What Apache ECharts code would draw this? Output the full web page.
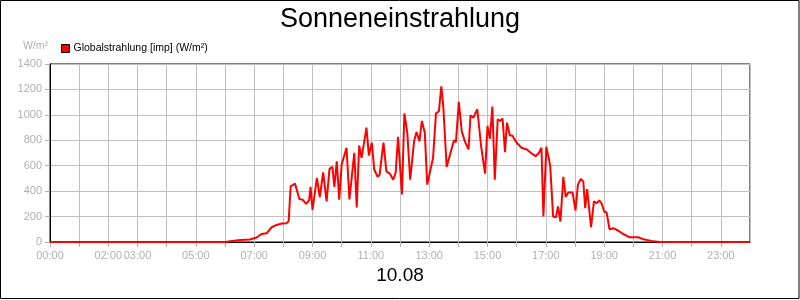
<!doctype html>
<html>
<head>
<meta charset="utf-8">
<script src="https://cdn.jsdelivr.net/npm/echarts@6/dist/echarts.min.js"></script>
<style>
* { margin: 0px; padding: 0px; }
body { background: #fff; }
#chart { width: 800px; height: 300px; }
</style>
</head>
<body>
<div id="chart"></div>
<script>
// Messzeitpunkte (Uhrzeit) und Globalstrahlung in W/m²
var times = ['00:00','06:00','06:31','06:51','07:05','07:15','07:26','07:36','07:46','07:57',
	'08:07','08:11','08:15','08:24','08:33','08:40','08:47','08:53','08:56','09:00',
	'09:09','09:15','09:22','09:29','09:35','09:41','09:45','09:50','09:55','10:00',
	'10:04','10:10','10:16','10:26','10:31','10:36','10:41','10:51','10:56','11:02',
	'11:07','11:14','11:18','11:26','11:32','11:39','11:46','11:51','11:56','12:04',
	'12:09','12:15','12:21','12:29','12:34','12:40','12:45','12:51','12:56','13:00',
	'13:08','13:14','13:20','13:25','13:29','13:36','13:43','13:51','13:55','14:01',
	'14:07','14:14','14:21','14:25','14:31','14:39','14:47','14:55','15:00','15:05',
	'15:10','15:15','15:21','15:26','15:31','15:36','15:40','15:46','15:51','16:00',
	'16:10','16:21','16:31','16:39','16:46','16:51','16:55','17:01','17:09','17:15',
	'17:21','17:25','17:30','17:36','17:41','17:46','17:55','18:01','18:06','18:12',
	'18:17','18:21','18:25','18:29','18:33','18:39','18:45','18:50','18:55','19:00',
	'19:05','19:11','19:19','19:29','19:39','19:53','20:10','20:21','20:41','20:55',
	'24:00'];
var values = [0,0,15,20,35,63,69,116,134,145,
	148,165,437,459,338,332,300,327,433,253,
	504,354,548,320,575,591,433,635,332,609,
	596,741,335,702,271,759,662,899,680,781,
	570,512,530,781,556,538,490,543,828,375,
	1012,860,490,793,865,793,952,860,451,464,
	662,1012,1028,1224,1070,591,688,801,785,1102,
	872,785,728,997,978,1044,749,538,912,812,
	1065,490,965,952,971,706,939,838,838,781,
	741,728,696,675,702,741,200,749,601,200,
	195,279,161,512,354,390,390,248,451,496,
	477,266,417,417,116,319,306,327,301,240,
	232,100,108,89,63,37,37,21,5,0,
	0];
// beschriftete Stunden der x-Achse
var hourLabels = ['00:00','02:00','03:00','05:00','07:00','09:00','11:00','13:00','15:00','17:00','19:00','21:00','23:00'];
var yTicks = [0,200,400,600,800,1000,1200,1400];

var toMin = function(t){
	var p = t.split(':');
	return parseInt(p[0],10)*60 + parseInt(p[1],10);
};
var seriesData = [];
for (var i = 0; i < times.length; i++) {
	seriesData.push([toMin(times[i]), values[i]]);
}

var labelColor = '#b0b0b0';
var myChart = echarts.init(document.getElementById('chart'));
var option = {
	animation: false,
	backgroundColor: '#fff',
	title: {
		text: 'Sonneneinstrahlung',
		left: 'center',
		top: 1,
		textStyle: { fontFamily: 'Liberation Sans, Arial', fontSize: 27, fontWeight: 'normal', color: '#000' }
	},
	legend: {
		left: 56,
		top: 38,
		icon: 'rect',
		itemWidth: 8,
		itemHeight: 8,
		itemGap: 4,
		textStyle: { fontFamily: 'Liberation Sans, Arial', fontSize: 10.5, color: '#000', padding: [0,0,0,-1] },
		data: [{ name: 'Globalstrahlung [imp] (W/m²)', itemStyle: { color: '#ff0000', borderColor: '#000', borderWidth: 1 } }]
	},
	grid: {
		left: 50, right: 50, top: 64, bottom: 58,
		show: true, borderColor: '#000', borderWidth: 1,
		containLabel: false
	},
	graphic: [
		{ type: 'rect', shape: { x: 0.5, y: 0.5, width: 798.5, height: 298 },
		  style: { fill: 'none', stroke: '#000', lineWidth: 1 }, silent: true },
		{ type: 'text', right: 752, top: 41,
		  style: { text: 'W/m²', fill: labelColor, font: '10.5px "Liberation Sans", Arial' } },
		{ type: 'text', left: 'center', top: 266,
		  style: { text: '10.08', fill: '#000', font: '19px "Liberation Sans", Arial' } }
	],
	xAxis: {
		type: 'value',
		min: 0, max: 1440, interval: 60,
		axisLine: { lineStyle: { color: '#000', width: 1 } },
		axisTick: { show: true, length: 5, lineStyle: { color: labelColor } },
		axisLabel: {
			color: labelColor, fontFamily: 'Liberation Sans, Arial', fontSize: 11, margin: 8,
			showMaxLabel: false,
			formatter: function(v){
				var h = Math.floor(v/60);
				var s = (h < 10 ? '0' : '') + h + ':00';
				return hourLabels.indexOf(s) >= 0 ? s : '';
			}
		},
		splitLine: { show: true, lineStyle: { color: '#c0c0c0', width: 1 } }
	},
	yAxis: {
		type: 'value',
		min: yTicks[0], max: yTicks[yTicks.length-1], interval: 200,
		axisLine: { show: true, lineStyle: { color: '#000', width: 1 } },
		axisTick: { show: true, length: 5, lineStyle: { color: labelColor } },
		axisLabel: {
			color: labelColor, fontFamily: 'Liberation Sans, Arial', fontSize: 11, margin: 8,
			formatter: function(v){ return String(v); }
		},
		splitLine: { show: true, lineStyle: { color: '#c0c0c0', width: 1 } }
	},
	series: [{
		name: 'Globalstrahlung [imp] (W/m²)',
		type: 'line',
		showSymbol: false,
		symbol: 'none',
		lineStyle: { color: '#ff0000', width: 2 },
		itemStyle: { color: '#ff0000' },
		data: seriesData
	}]
};
myChart.setOption(option);
</script>
</body>
</html>
